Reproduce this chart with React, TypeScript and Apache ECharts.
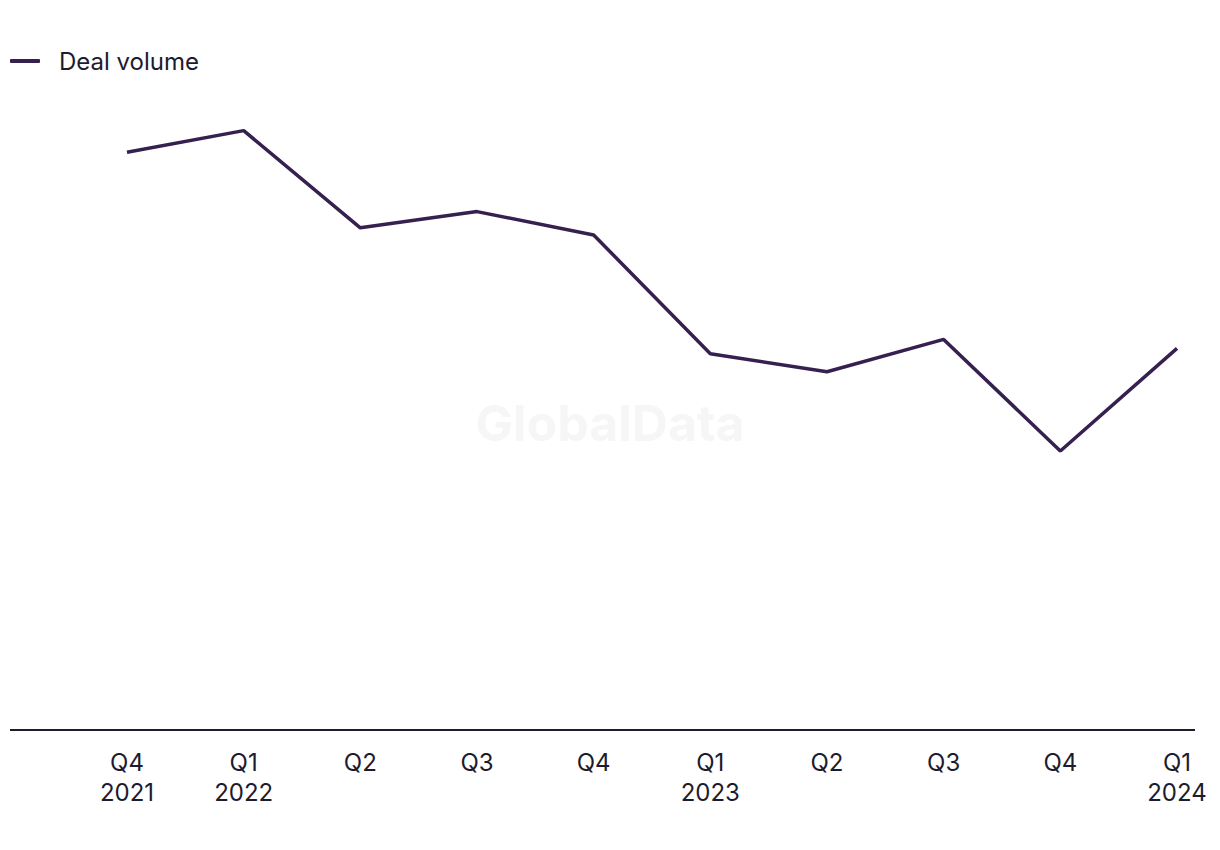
import React, { useEffect, useRef } from "react";
import * as echarts from "echarts";

const quarters = ["Q4\n2021", "Q1\n2022", "Q2", "Q3", "Q4", "Q1\n2023", "Q2", "Q3", "Q4", "Q1\n2024"];
const dealVolume = [321, 333, 279, 288, 275, 209, 199, 217, 155, 212];
const seriesName = "Deal volume";

export default function App() {
  const ref = useRef<HTMLDivElement>(null);
  useEffect(() => {
    if (!ref.current) return;
    const chart = echarts.init(ref.current, null, { renderer: "svg" });
    const font = "Inter, 'Noto Sans', sans-serif";
    chart.setOption({
      animation: false,
      backgroundColor: "#ffffff",
      textStyle: { fontFamily: font },
      legend: {
        left: 5,
        top: 44,
        icon: "roundRect",
        itemWidth: 30,
        itemHeight: 4,
        textStyle: { fontSize: 24, color: "#1d1b2e", fontFamily: font, padding: [0, 0, 0, 14] },
        data: [seriesName],
      },
      graphic: [
        {
          type: "text",
          left: "center",
          top: 398,
          style: { text: "GlobalData", fontSize: 50, fontWeight: "bold", fill: "#f6f6f6", fontFamily: font },
          z: 0,
        },
        {
          type: "line",
          shape: { x1: 10, y1: 730, x2: 1195, y2: 730 },
          style: { stroke: "#1d1b2e", lineWidth: 2 },
          z: 10,
        },
      ],
      grid: { left: 127, right: 43, top: 100, bottom: 120, containLabel: false },
      xAxis: {
        type: "category",
        data: quarters,
        boundaryGap: false,
        axisLine: { show: false },
        axisTick: { show: false },
        axisLabel: {
          fontSize: 24,
          lineHeight: 30,
          color: "#1d1b2e",
          margin: 17,
          fontFamily: font,
        },
      },
      yAxis: {
        type: "value",
        min: 0,
        max: 350,
        show: false,
        splitLine: { show: false },
      },
      series: [
        {
          name: seriesName,
          type: "line",
          data: dealVolume,
          showSymbol: false,
          symbol: "none",
          lineStyle: { color: "#36204f", width: 3.5 },
          itemStyle: { color: "#36204f" },
          z: 5,
        },
      ],
    });
    return () => chart.dispose();
  }, []);
  return <div ref={ref} style={{ position: "absolute", left: 0, top: 0, width: 1220, height: 850 }} />;
}
